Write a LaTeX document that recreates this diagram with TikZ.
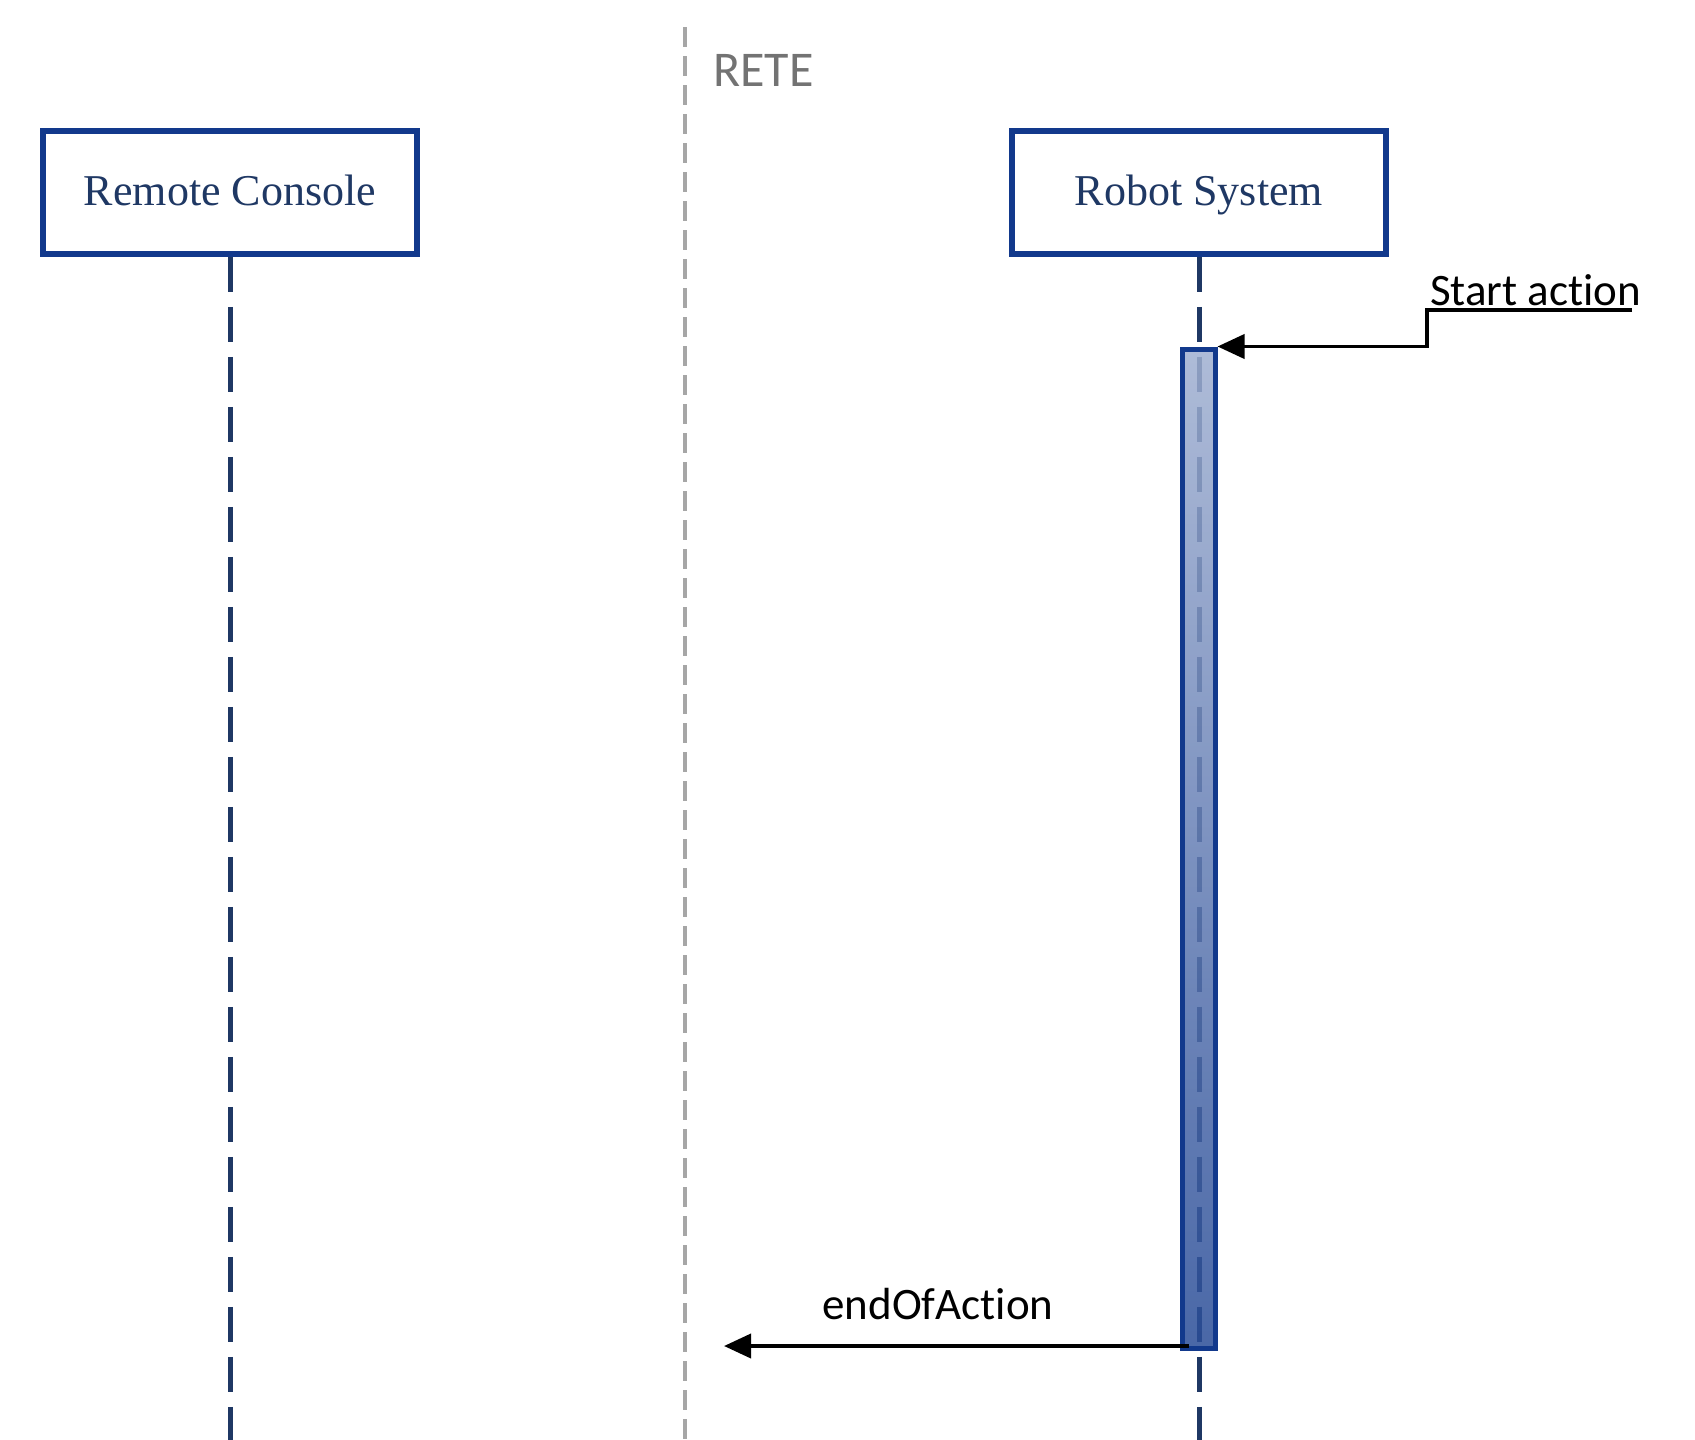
\documentclass[tikz,border=0pt]{standalone}
\usepackage{fontspec}
\setmainfont{Liberation Serif}
\newfontfamily\calibri[Ligatures=NoCommon]{Carlito}
\usetikzlibrary{arrows.meta,positioning,calc}
\definecolor{umlblue}{HTML}{12398C}
\definecolor{lifenavy}{HTML}{1F3864}
\definecolor{netgray}{HTML}{A6A6A6}
\tikzset{
    actor box/.style={draw=umlblue,line width=5.5pt,fill=white,minimum width=374pt,minimum height=123pt,
        text=lifenavy,font=\fontsize{44}{50}\selectfont,text height=30pt,text depth=4pt},
    lifeline/.style={lifenavy,line width=5pt,dash pattern=on 35pt off 15pt},
    net line/.style={netgray,line width=3.5pt,dash pattern=on 20pt off 9pt},
    activation/.style={draw=umlblue,line width=5pt,top color=umlblue!40!white,bottom color=umlblue!90!white,
        fill opacity=.85,minimum width=33pt,minimum height=999pt,inner sep=0pt},
    msg/.style={->,>={Triangle[length=27pt,width=24pt]},line width=3.8pt,black},
    msg label/.style={font=\calibri\fontsize{45}{50}\selectfont,inner sep=0pt},
}
\begin{document}
\begin{tikzpicture}[x=1pt,y=-1pt]
    \useasboundingbox (0,0) rectangle (1695,1440);

    % participants
    \node[actor box] (rc) at (230,192.5) {Remote Console};
    \node[actor box] (rs) at (1199,192.5) {Robot System};

    % network boundary
    \coordinate (netTop) at (685,27);
    \coordinate (netBot) at (685,1440);
    \draw[net line] (netTop) -- (netBot);
    \node[font=\calibri\fontsize{50}{55}\selectfont,text=gray!90!black,anchor=west,inner sep=0pt] (rete) at (713,70) {RETE};

    % lifelines
    \coordinate (rcEnd) at (rc.south |- netBot);
    \coordinate (rsEnd) at (rs.south |- netBot);
    \draw[lifeline] (rc.south) -- (rcEnd);
    \draw[lifeline] (rs.south) -- (rsEnd);
    \node[activation] (act) at (1198.5,848.5) {};

    % start action
    \node[msg label,anchor=base west] (start) at (1430,305) {Start act\kern0pt ion};
    \coordinate (ulL) at (1427,310);
    \coordinate (ulR) at (1632,310);
    \draw[msg] (ulR) -- (ulL) |- (act.north east);

    % end of action
    \coordinate (eoaStart) at (1189,1346);
    \coordinate (eoaEnd) at (724,1346);
    \draw[msg] (eoaStart) -- (eoaEnd);
    \node[msg label,anchor=base] (eoa) at (938,1319) {endOfAct\kern0pt ion};
\end{tikzpicture}
\end{document}
